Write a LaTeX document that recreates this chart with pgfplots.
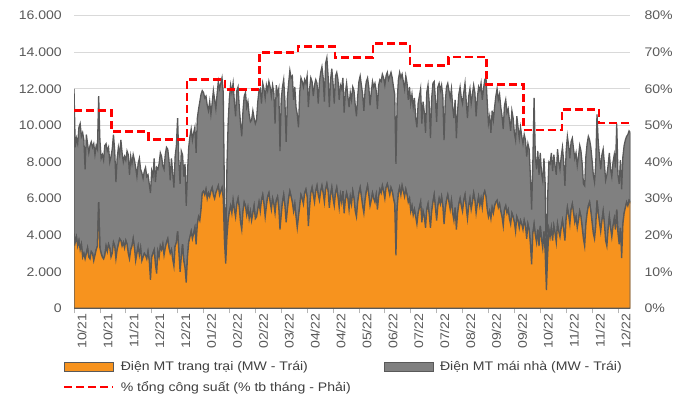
\documentclass[border=0pt]{standalone}
\usepackage{fontspec}
\setmainfont[FakeStretch=1.13]{Liberation Sans}
\usepackage{pgfplots}
\usepackage{pgfplotstable}
\pgfplotsset{compat=1.18}
\definecolor{farm}{HTML}{F7931E}
\definecolor{roof}{HTML}{808080}
\definecolor{edge}{HTML}{595959}
\definecolor{txt}{HTML}{595959}
\definecolor{txtdark}{HTML}{404040}
\definecolor{gridc}{HTML}{D9D9D9}
\pgfplotsset{
  boxlegend/.style={legend image code/.code={\draw[##1] (0bp,-4.5bp) rectangle (49bp,4.5bp);}},
  linelegend/.style={legend image code/.code={\draw[##1] (0bp,0bp) -- (49bp,0bp);}},
}

\pgfplotstableread{
d f t
0 4100 12000
1 3600 8800
2 3900 9300
3 3400 9000
4 3700 9900
5 3200 10100
6 3500 9400
7 2800 9600
8 3000 9200
9 2700 7600
10 3000 9500
11 3300 9000
12 2800 8500
13 2700 8900
14 3100 9100
15 3000 8800
16 2600 9000
17 2900 8400
18 3200 8900
19 3400 8700
20 5800 11600
21 3300 9200
22 3000 8200
23 2800 8400
24 2700 8100
25 2900 8900
26 3400 9000
27 3100 8600
28 3500 8800
29 3300 8000
30 2800 8300
31 3000 8700
32 3600 9500
33 3400 8600
34 2700 6900
35 3200 8200
36 3500 8800
37 3800 8400
38 3700 9200
39 3400 8500
40 3600 8000
41 3300 8300
42 3700 8100
43 3500 8600
44 3000 8400
45 2700 7300
46 3200 8300
47 3400 7900
48 3800 8400
49 3300 8100
50 2600 7700
51 3000 7200
52 3400 7900
53 2900 8200
54 3300 7600
55 2600 7400
56 2800 7100
57 3000 7500
58 2900 7700
59 2700 7200
60 3100 7300
61 2600 6800
62 1550 6300
63 2800 7500
64 3000 7200
65 3200 8200
66 2400 6900
67 1900 7700
68 3100 7600
69 2800 7900
70 3400 8500
71 3200 8300
72 3500 7800
73 2900 7600
74 3300 8400
75 3600 8800
76 3800 8700
77 3300 8100
78 3000 7000
79 3200 8200
80 2700 7400
81 2300 6600
82 3400 8300
83 3600 8900
84 4200 10400
85 3100 8100
86 2000 6800
87 2800 8600
88 3500 8400
89 2600 7200
90 2200 7900
91 1400 5600
92 2800 7400
93 3600 8800
94 3900 9400
95 4200 9800
96 3800 9200
97 4100 9600
98 4400 9900
99 3500 8500
100 4600 10400
101 5000 10900
102 4800 11300
103 5400 11700
104 6300 11900
105 6400 11800
106 6200 11500
107 6500 11600
108 6000 11100
109 6300 10800
110 6100 11300
111 6400 10600
112 6600 11200
113 6200 11900
114 6000 11400
115 6300 10900
116 6500 11700
117 6700 12400
118 6200 12000
119 6400 12300
120 6600 12600
121 6000 11800
122 3600 6000
123 2450 2700
124 3900 7800
125 4800 10200
126 5300 11500
127 5600 12200
128 5200 11800
129 5900 12300
130 5400 11300
131 5000 10500
132 5700 11900
133 6000 12100
134 5500 11000
135 4700 10100
136 4300 9400
137 5300 10800
138 5800 11600
139 5600 11800
140 5100 11000
141 5500 11300
142 4900 10600
143 5300 10200
144 4800 10300
145 5200 10800
146 5600 10400
147 4900 10100
148 5000 10300
149 5400 11300
150 5800 11900
151 5300 12000
152 5900 11200
153 6200 12300
154 5700 12000
155 5000 11500
156 5600 12200
157 6100 11900
158 6300 12400
159 5800 12100
160 5400 11600
161 6000 12200
162 5700 11800
163 5200 10100
164 5900 12200
165 6100 11700
166 5500 12000
167 4300 8600
168 5100 11400
169 5800 12100
170 6200 12500
171 5600 11300
172 4700 9100
173 5400 11500
174 6000 12300
175 6400 13000
176 6100 12600
177 5800 12700
178 5300 11400
179 5700 12100
180 5000 11000
181 4400 10600
182 5000 9900
183 5600 11800
184 6200 12600
185 6000 12400
186 5700 12100
187 6300 12500
188 6500 12300
189 6100 12700
190 4500 11000
191 5500 12000
192 6300 12600
193 6600 12400
194 6200 11600
195 5800 12200
196 6400 12500
197 6700 12300
198 6200 11200
199 5900 12400
200 6400 12900
201 6700 13200
202 6300 12600
203 5800 11300
204 6500 13400
205 6800 13700
206 6400 12700
207 5500 11000
208 6200 12500
209 6600 13100
210 6000 12300
211 5600 11200
212 6300 12700
213 6600 12900
214 6100 12500
215 5500 11400
216 6200 12200
217 5800 12000
218 6400 12600
219 5200 10700
220 5900 11800
221 6300 12300
222 6000 11600
223 5400 11000
224 6100 11800
225 5700 11400
226 6400 12100
227 6000 11900
228 5300 11100
229 5000 10500
230 5800 11600
231 6300 12400
232 6600 12700
233 6100 12200
234 5600 11700
235 5200 10800
236 5900 11900
237 6400 12400
238 6700 12600
239 6200 12100
240 5600 11100
241 5900 11800
242 6300 12400
243 6000 12100
244 5800 12300
245 6200 11900
246 5400 10900
247 6100 12200
248 6500 12500
249 6300 12400
250 6700 12800
251 6400 12600
252 6000 12200
253 6600 12700
254 6800 12900
255 6500 12500
256 6200 12700
257 6600 12900
258 6400 12600
259 6000 12100
260 5700 11700
261 2900 7900
262 5500 11300
263 6300 12500
264 6600 12900
265 6200 12600
266 6700 12800
267 6400 12400
268 6100 12000
269 6500 12700
270 6200 12300
271 5800 11400
272 6000 12100
273 5300 11200
274 5600 11700
275 5100 11000
276 5400 11500
277 5000 10400
278 4600 9900
279 5200 11200
280 5500 11600
281 5800 12000
282 4700 10100
283 5300 11300
284 5000 10700
285 4400 9600
286 5400 11800
287 5700 12200
288 5100 11200
289 4400 9300
290 5300 11500
291 5800 12300
292 6200 12400
293 5500 11400
294 4800 10200
295 5600 12100
296 6000 12300
297 5700 11900
298 6100 12200
299 5600 11600
300 4600 9200
301 5400 11300
302 5900 12100
303 6200 12300
304 5800 11900
305 5400 11500
306 5900 12000
307 5200 11000
308 4800 10400
309 5500 11400
310 4300 9300
311 5200 10800
312 5700 11700
313 6000 12100
314 5600 11500
315 5300 11200
316 5900 11800
317 6200 12300
318 5500 11300
319 4900 10400
320 5600 11600
321 6000 12000
322 5400 11200
323 5800 11700
324 6300 12200
325 5900 11800
326 5200 10500
327 5700 11500
328 6100 12100
329 5600 11900
330 6000 12300
331 5500 11400
332 6200 12000
333 6400 12500
334 6100 12600
335 5400 11300
336 5000 10100
337 5300 10500
338 4900 9600
339 5500 10800
340 5200 10300
341 5600 11000
342 5800 11600
343 5900 12000
344 5500 11400
345 5700 11700
346 5300 11000
347 5000 10500
348 4500 9800
349 5400 11100
350 5600 11400
351 5200 10700
352 5400 10900
353 4900 10300
354 4600 9700
355 5200 10800
356 5000 10400
357 4700 9600
358 4200 9200
359 5000 10500
360 4800 9900
361 4400 9300
362 4800 9900
363 4600 9400
364 4300 9000
365 4800 9500
366 4500 9200
367 3800 8300
368 4600 9000
369 4300 8700
370 3500 7200
371 2400 5400
372 4100 8000
373 4600 11500
374 4000 8300
375 3600 7600
376 4300 8600
377 3400 7300
378 4500 8500
379 3800 7400
380 3300 7000
381 4200 8200
382 3000 6800
383 1000 1800
384 2900 6100
385 4300 8000
386 3900 7900
387 4400 8500
388 3700 7500
389 4500 8400
390 4100 7800
391 3600 7300
392 4600 8700
393 4200 8000
394 3900 7600
395 4400 8300
396 4800 8800
397 4300 8000
398 3700 6700
399 4900 8600
400 5500 9400
401 5100 8900
402 4600 8200
403 5400 9100
404 5700 9300
405 5200 8700
406 4700 8200
407 5000 8500
408 4400 7800
409 4800 8300
410 5300 8900
411 5000 8600
412 4400 7900
413 3800 6800
414 3400 6700
415 4600 8300
416 5200 9000
417 5600 9400
418 5800 9200
419 5300 8800
420 4700 8100
421 4100 7300
422 3800 6900
423 4500 7900
424 5900 10600
425 5200 9100
426 4700 8300
427 4200 7600
428 4800 8400
429 5300 8700
430 4600 7900
431 3700 7000
432 3400 7300
433 4300 7800
434 5000 8500
435 4400 7600
436 3900 7200
437 4500 8000
438 4900 8400
439 4300 7700
440 5400 10100
441 4100 7300
442 3500 6800
443 4400 8100
444 2750 6500
445 4600 8300
446 5200 8900
447 5500 9200
448 5800 9400
449 5600 9500
450 5900 9700
451 5800 9600
}\solar

\begin{document}
\begin{tikzpicture}
\useasboundingbox (0,0) rectangle (693bp,398bp);
\begin{axis}[
  at={(74bp,89.7bp)}, anchor=south west,
  scale only axis, width=556.3bp, height=292.6bp,
  xmin=0, xmax=451, ymin=0, ymax=16000,
  scaled y ticks=false,
  stack plots=y,
  axis x line*=bottom, axis y line*=left,
  y axis line style={draw=none},
  x axis line style={draw=gridc!60!gray},
  xtick={0,21,...,441},
  xticklabels={10/21,10/21,11/21,12/21,12/21,01/22,02/22,02/22,03/22,04/22,04/22,05/22,06/22,07/22,07/22,08/22,09/22,09/22,10/22,11/22,11/22,12/22},
  xtick style={draw=gridc!60!gray, line width=0.8bp},
  major tick length=5bp,
  tick align=outside,
  xtick pos=bottom,
  ytick={0,2000,...,16000},
  yticklabels={0,2.000,4.000,6.000,8.000,10.000,12.000,14.000,16.000},
  ytick style={draw=none},
  ymajorgrids, grid style={draw=gridc, line width=0.9bp},
  tick label style={font=\fontsize{12.5}{14}\selectfont, text=txt},
  xticklabel style={rotate=90, anchor=east, inner sep=0pt, yshift=-8bp},
  yticklabel style={anchor=east, inner sep=0pt, xshift=-7bp},
  legend columns=2,
  legend style={at={(0,0)}, anchor=north west, xshift=-11bp, yshift=-52bp,
    draw=none, fill=none, inner sep=0pt, row sep=7bp,
    font=\fontsize{12.5}{14}\selectfont, text=txtdark,
    cells={anchor=west},
    nodes={inner sep=1bp},
    /tikz/every odd column/.append style={column sep=5bp},
    /tikz/every even column/.append style={column sep=32bp}},
]
\addplot[fill=farm, draw=edge, line width=1.3bp, boxlegend]
  table[x=d, y=f] {\solar} \closedcycle;
\addlegendentry{Điện MT trang trại (MW - Trái)}
\addplot[fill=roof, draw=edge, line width=1.3bp, boxlegend]
  table[x=d, y expr=\thisrow{t}-\thisrow{f}] {\solar} \closedcycle;
\addlegendentry{Điện MT mái nhà (MW - Trái)}
\addlegendimage{red, line width=2.6bp, dash pattern=on 8bp off 4bp, linelegend}
\addlegendentry{\% tổng công suất (\% tb tháng - Phải)}
\end{axis}
\begin{axis}[
  at={(74bp,89.7bp)}, anchor=south west,
  scale only axis, width=556.3bp, height=292.6bp,
  xmin=0, xmax=451, ymin=0, ymax=80,
  axis x line=none, axis y line*=right,
  y axis line style={draw=none},
  ytick={0,10,...,80},
  yticklabels={0\%,10\%,20\%,30\%,40\%,50\%,60\%,70\%,80\%},
  ytick style={draw=none},
  yticklabel style={font=\fontsize{12.5}{14}\selectfont, text=txt, anchor=west, inner sep=0pt, xshift=14bp},
]
\addplot[red, line width=2.6bp, dash pattern=on 8bp off 4bp, const plot mark left]
  coordinates {(0,54) (30.5,48.3) (60.5,46.2) (91.5,62.6) (122.5,59.8) (150.5,70) (181.5,71.6) (211.5,68.6) (242.5,72.4) (272.5,66.4) (303.5,68.7) (334.5,61.2) (364.5,48.7) (395.5,54.4) (425.5,50.7) (451,50.7)};
\end{axis}
\end{tikzpicture}
\end{document}
